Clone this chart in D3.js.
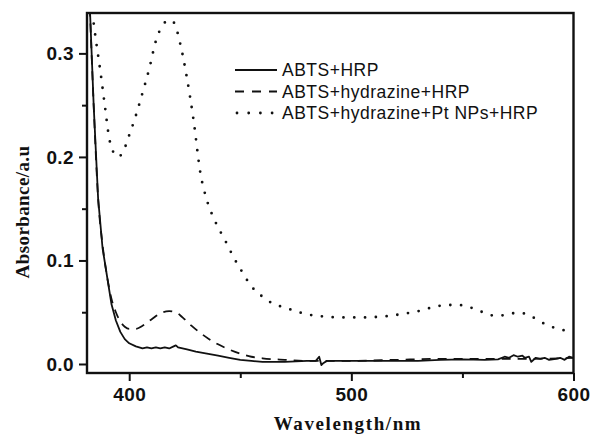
<!DOCTYPE html>
<html lang="en">
<head>
    <meta charset="UTF-8" />
    <title>Absorbance spectra</title>
    <script src="https://d3js.org/d3.v7.min.js"></script>
    <style>
        body { margin: 0; background: #fff; }
        .tick text { font-family: Arial, "Liberation Sans", sans-serif; font-weight: bold; font-size: 19px; letter-spacing: 0.4px; fill: #111; }
        .axis-title { font-family: "Times New Roman", "Liberation Serif", serif; font-weight: bold; font-size: 19px; fill: #111; }
        .legend text { font-family: Arial, "Liberation Sans", sans-serif; font-size: 17.5px; letter-spacing: 0.5px; fill: #111; }
    </style>
</head>
<body>
    <script>
        // series names
        const seriesNames = ["ABTS+HRP", "ABTS+hydrazine+HRP", "ABTS+hydrazine+Pt NPs+HRP"];

        // ABTS+HRP
        const wlHRP = [382, 384, 386, 388, 390, 392, 394, 396, 398, 400, 403, 406, 408, 410, 412, 414, 416, 418, 420, 421, 422, 424, 426, 430, 435, 440, 445, 450, 455, 460, 470, 480, 484, 485.5, 486.5, 487.5, 489, 492, 500, 510, 520, 530, 540, 550, 560, 566, 569, 571, 573, 575, 577, 578, 580, 581, 583, 585, 587, 589, 592, 594, 596, 598, 600];
        const absHRP = [0.36, 0.25, 0.16, 0.112, 0.085, 0.058, 0.042, 0.031, 0.024, 0.020, 0.017, 0.015, 0.016, 0.015, 0.016, 0.015, 0.016, 0.015, 0.017, 0.018, 0.016, 0.015, 0.014, 0.012, 0.010, 0.008, 0.006, 0.004, 0.003, 0.002, 0.002, 0.003, 0.003, 0.007, -0.001, 0.001, 0.003, 0.003, 0.003, 0.003, 0.003, 0.003, 0.004, 0.0045, 0.004, 0.0045, 0.007, 0.006, 0.0085, 0.007, 0.008, 0.006, 0.007, 0.002, 0.006, 0.005, 0.006, 0.004, 0.005, 0.006, 0.004, 0.007, 0.006];

        // ABTS+hydrazine+HRP
        const wlHyd = [382, 384, 386, 388, 390, 392, 394, 396, 398, 400, 403, 406, 410, 414, 418, 421, 424, 428, 432, 436, 440, 445, 450, 455, 460, 470, 480, 490, 500, 520, 540, 560, 580, 600];
        const absHyd = [0.36, 0.25, 0.16, 0.115, 0.085, 0.063, 0.05, 0.041, 0.036, 0.034, 0.034, 0.037, 0.043, 0.049, 0.051, 0.050, 0.045, 0.037, 0.030, 0.024, 0.019, 0.014, 0.010, 0.007, 0.0055, 0.004, 0.003, 0.003, 0.003, 0.004, 0.005, 0.005, 0.005, 0.006];

        // ABTS+hydrazine+Pt NPs+HRP
        const wlPt = [381, 383, 385, 387, 389, 391, 393, 395, 397, 400, 403, 406, 409, 412, 415, 418, 420, 423, 426, 429, 432, 435, 438, 441, 444, 447, 450, 455, 460, 465, 470, 475, 480, 487, 495, 505, 515, 522, 530, 537, 543, 548, 553, 558, 563, 568, 573, 577, 581, 585, 590, 595, 600];
        const absPt = [0.37, 0.345, 0.313, 0.283, 0.25, 0.218, 0.204, 0.2, 0.204, 0.221, 0.24, 0.262, 0.285, 0.312, 0.327, 0.332, 0.33, 0.309, 0.276, 0.235, 0.185, 0.158, 0.141, 0.128, 0.116, 0.103, 0.092, 0.075, 0.065, 0.058, 0.0545, 0.051, 0.048, 0.046, 0.045, 0.045, 0.046, 0.048, 0.051, 0.055, 0.057, 0.057, 0.055, 0.051, 0.047, 0.047, 0.049, 0.049, 0.046, 0.041, 0.036, 0.033, 0.030];

        const xTicks = [400, 500, 600];
        const xMinor = [450, 550];
        const yTicks = [0.0, 0.1, 0.2, 0.3];
        const yMinor = [0.05, 0.15, 0.25];

        const width = 592, height = 435;
        const mLeft = 87, mRight = 573.5, mTop = 13, mBottom = 373;

        const x = d3.scaleLinear().domain([381, 600]).range([mLeft, mRight]);
        const y = d3.scaleLinear().domain([-0.0087, 0.339]).range([mBottom, mTop]);

        const svg = d3.select("body").append("svg")
            .attr("width", width)
            .attr("height", height);

        svg.append("defs").append("clipPath").attr("id", "plot")
            .append("rect").attr("x", mLeft).attr("y", mTop)
            .attr("width", mRight - mLeft).attr("height", mBottom - mTop);

        const toPts = (w, a) => w.map((d, i) => [d, a[i]]);
        const series = [
            { pts: toPts(wlHRP, absHRP), dash: null, width: 1.8, cap: "butt", curve: d3.curveLinear },
            { pts: toPts(wlHyd, absHyd), dash: "9,7", width: 1.8, cap: "butt", curve: d3.curveMonotoneX },
            { pts: toPts(wlPt, absPt), dash: "0,10.8", width: 2.8, cap: "round", curve: d3.curveMonotoneX }
        ];

        const g = svg.append("g").attr("clip-path", "url(#plot)");
        series.forEach(s => {
            const line = d3.line().x(d => x(d[0])).y(d => y(d[1])).curve(s.curve);
            g.append("path")
                .attr("d", line(s.pts))
                .attr("fill", "none")
                .attr("stroke", "#111")
                .attr("stroke-width", s.width)
                .attr("stroke-linecap", s.cap)
                .attr("stroke-linejoin", "round")
                .attr("stroke-dasharray", s.dash);
        });

        // axes
        svg.append("g").attr("transform", `translate(0,${mBottom})`)
            .call(d3.axisBottom(x).tickValues(xTicks).tickFormat(d3.format("d")).tickSize(8).tickPadding(7));
        svg.append("g").attr("transform", `translate(0,${mBottom})`)
            .call(d3.axisBottom(x).tickValues(xMinor).tickFormat("").tickSize(5));
        svg.append("g").attr("transform", `translate(${mLeft},0)`)
            .call(d3.axisLeft(y).tickValues(yTicks).tickFormat(d3.format(".1f")).tickSize(8).tickPadding(5));
        svg.append("g").attr("transform", `translate(${mLeft},0)`)
            .call(d3.axisLeft(y).tickValues(yMinor).tickFormat("").tickSize(5));

        svg.selectAll(".domain").remove();
        svg.selectAll(".tick line").attr("stroke", "#111").attr("stroke-width", 2);

        // frame
        svg.append("rect")
            .attr("x", mLeft).attr("y", mTop)
            .attr("width", mRight - mLeft).attr("height", mBottom - mTop)
            .attr("fill", "none").attr("stroke", "#111").attr("stroke-width", 2.4);

        // titles
        svg.append("text").attr("class", "axis-title")
            .attr("x", 348).attr("y", 430)
            .attr("text-anchor", "middle")
            .style("letter-spacing", "1.6px")
            .text("Wavelength/nm");
        svg.append("text").attr("class", "axis-title")
            .attr("transform", "translate(29,212) rotate(-90)")
            .attr("text-anchor", "middle")
            .style("letter-spacing", "0.4px")
            .text("Absorbance/a.u");

        // legend
        const legend = svg.append("g").attr("class", "legend");
        const rowY = [70, 91.5, 113];
        series.forEach((s, i) => {
            legend.append("line")
                .attr("x1", 235).attr("x2", i === 2 ? 273 : 277)
                .attr("y1", rowY[i]).attr("y2", rowY[i])
                .attr("stroke", "#111")
                .attr("stroke-width", s.width)
                .attr("stroke-linecap", s.cap)
                .attr("stroke-dasharray", i === 1 ? "9,8" : (i === 2 ? "0,11.7" : null))
                .attr("transform", i === 2 ? "translate(2,0)" : null);
            legend.append("text")
                .attr("x", 282).attr("y", rowY[i])
                .attr("dy", "0.35em")
                .text(seriesNames[i]);
        });
    </script>
</body>
</html>
